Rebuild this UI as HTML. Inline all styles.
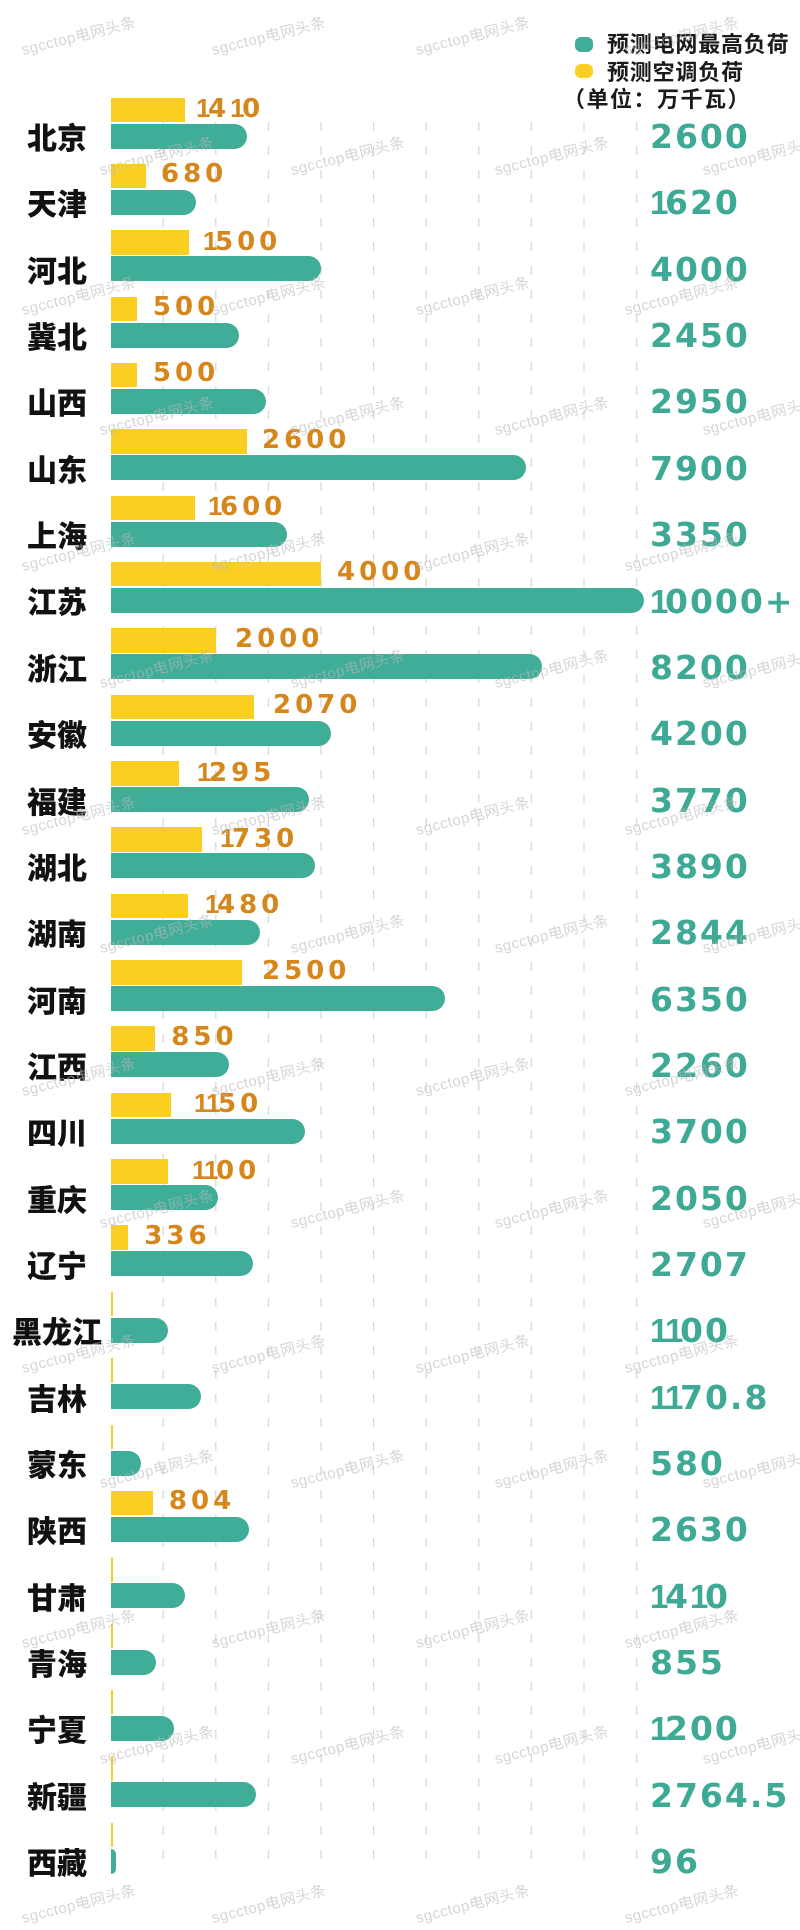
<!DOCTYPE html>
<html><head><meta charset="utf-8">
<style>
html,body{margin:0;padding:0}
body{width:800px;height:1927px;position:relative;background:#fff;overflow:hidden}
.r{position:absolute;left:0;width:800px;height:52px}
.y{position:absolute;left:110.6px;top:0;height:24.5px;background:#fbcf22}
.g{position:absolute;left:110.6px;top:26px;height:25px;background:#40ad98;border-radius:0 12.5px 12.5px 0}
.p{position:absolute;left:0;width:114px;top:23.5px;height:30px;line-height:30px;text-align:center;font-family:"Noto Sans CJK SC","WenQuanYi Zen Hei",sans-serif;font-weight:900;font-size:30px;color:#111;white-space:nowrap}
.o{position:absolute;top:-2.5px;font-family:"DejaVu Sans",sans-serif;font-weight:bold;font-size:26px;line-height:26px;color:#d5871b;letter-spacing:4px;white-space:nowrap}
.o i{display:inline-block;font-style:normal;width:12px;font-family:"Liberation Sans",sans-serif;letter-spacing:0}
.v{position:absolute;left:650px;top:22.6px;font-family:"DejaVu Sans",sans-serif;font-weight:bold;font-size:33px;line-height:33px;color:#3ea994;letter-spacing:2px;white-space:nowrap}
.v i{display:inline-block;font-style:normal;width:15px;font-family:"Liberation Sans",sans-serif;letter-spacing:0}
.lg{position:absolute;font-family:"Noto Sans CJK SC","WenQuanYi Zen Hei",sans-serif;font-weight:bold;font-size:22px;line-height:22px;color:#1a1a1a;white-space:nowrap;letter-spacing:0.8px}
.dot{position:absolute;left:575px;width:18px;height:15px;border-radius:6px}
.w{position:absolute;width:130px;margin-left:-65px;margin-top:-10px;height:20px;line-height:20px;text-align:center;font-family:"Liberation Sans","Noto Sans CJK SC",sans-serif;font-size:15px;letter-spacing:0.5px;color:rgba(185,185,185,0.6);transform:rotate(-14deg);white-space:nowrap;z-index:5}
svg{position:absolute;left:0;top:0}
</style></head>
<body>
<svg width="800" height="1927">
<g stroke="#d9d9d9" stroke-width="1.3" stroke-dasharray="9 15">
<line x1="163.2" y1="122" x2="163.2" y2="1873"/>
<line x1="215.8" y1="122" x2="215.8" y2="1873"/>
<line x1="268.4" y1="122" x2="268.4" y2="1873"/>
<line x1="321" y1="122" x2="321" y2="1873"/>
<line x1="373.6" y1="122" x2="373.6" y2="1873"/>
<line x1="426.2" y1="122" x2="426.2" y2="1873"/>
<line x1="478.8" y1="122" x2="478.8" y2="1873"/>
<line x1="531.4" y1="122" x2="531.4" y2="1873"/>
<line x1="584" y1="122" x2="584" y2="1873"/>
<line x1="636.6" y1="122" x2="636.6" y2="1873"/>
</g>
</svg>

<div class="dot" style="top:36.5px;background:#40ad98"></div>
<div class="lg" style="left:607px;top:32px">预测电网最高负荷</div>
<div class="dot" style="top:63.5px;height:14px;background:#fbcf22"></div>
<div class="lg" style="left:607px;top:60px">预测空调负荷</div>
<div class="lg" style="left:563px;top:87px;letter-spacing:1.5px">（单位：万千瓦）</div>

<div class="r" style="top:97.5px"><div class="y" style="width:74.2px"></div><div class="g" style="width:136.8px"></div><div class="p">北京</div><div class="o" style="left:196px"><i>1</i>4<i>1</i>0</div><div class="v">2600</div></div>
<div class="r" style="top:163.85px"><div class="y" style="width:35.8px"></div><div class="g" style="width:85.2px"></div><div class="p">天津</div><div class="o" style="left:161px">680</div><div class="v"><i>1</i>620</div></div>
<div class="r" style="top:230.2px"><div class="y" style="width:78.9px"></div><div class="g" style="width:210.4px"></div><div class="p">河北</div><div class="o" style="left:203px"><i>1</i>500</div><div class="v">4000</div></div>
<div class="r" style="top:296.55px"><div class="y" style="width:26.3px"></div><div class="g" style="width:128.9px"></div><div class="p">冀北</div><div class="o" style="left:152.9px">500</div><div class="v">2450</div></div>
<div class="r" style="top:362.9px"><div class="y" style="width:26.3px"></div><div class="g" style="width:155.2px"></div><div class="p">山西</div><div class="o" style="left:152.9px">500</div><div class="v">2950</div></div>
<div class="r" style="top:429.25px"><div class="y" style="width:136.8px"></div><div class="g" style="width:415.5px"></div><div class="p">山东</div><div class="o" style="left:262px">2600</div><div class="v">7900</div></div>
<div class="r" style="top:495.6px"><div class="y" style="width:84.2px"></div><div class="g" style="width:176.2px"></div><div class="p">上海</div><div class="o" style="left:208px"><i>1</i>600</div><div class="v">3350</div></div>
<div class="r" style="top:561.95px"><div class="y" style="width:210.4px"></div><div class="g" style="width:533.4px"></div><div class="p">江苏</div><div class="o" style="left:337px">4000</div><div class="v"><i>1</i>0000+</div></div>
<div class="r" style="top:628.3px"><div class="y" style="width:105.2px"></div><div class="g" style="width:431.3px"></div><div class="p">浙江</div><div class="o" style="left:235px">2000</div><div class="v">8200</div></div>
<div class="r" style="top:694.65px"><div class="y" style="width:143.4px"></div><div class="g" style="width:220.9px"></div><div class="p">安徽</div><div class="o" style="left:273px">2070</div><div class="v">4200</div></div>
<div class="r" style="top:761px"><div class="y" style="width:68.1px"></div><div class="g" style="width:198.3px"></div><div class="p">福建</div><div class="o" style="left:197px"><i>1</i>295</div><div class="v">3770</div></div>
<div class="r" style="top:827.35px"><div class="y" style="width:91px"></div><div class="g" style="width:204.6px"></div><div class="p">湖北</div><div class="o" style="left:220px"><i>1</i>730</div><div class="v">3890</div></div>
<div class="r" style="top:893.7px"><div class="y" style="width:77.8px"></div><div class="g" style="width:149.6px"></div><div class="p">湖南</div><div class="o" style="left:205px"><i>1</i>480</div><div class="v">2844</div></div>
<div class="r" style="top:960.05px"><div class="y" style="width:131.5px"></div><div class="g" style="width:334px"></div><div class="p">河南</div><div class="o" style="left:262px">2500</div><div class="v">6350</div></div>
<div class="r" style="top:1026.4px"><div class="y" style="width:44.7px"></div><div class="g" style="width:118.9px"></div><div class="p">江西</div><div class="o" style="left:171.3px">850</div><div class="v">2260</div></div>
<div class="r" style="top:1092.75px"><div class="y" style="width:60.5px"></div><div class="g" style="width:194.6px"></div><div class="p">四川</div><div class="o" style="left:194px"><i>1</i><i>1</i>50</div><div class="v">3700</div></div>
<div class="r" style="top:1159.1px"><div class="y" style="width:57.9px"></div><div class="g" style="width:107.8px"></div><div class="p">重庆</div><div class="o" style="left:192px"><i>1</i><i>1</i>00</div><div class="v">2050</div></div>
<div class="r" style="top:1225.45px"><div class="y" style="width:17.7px"></div><div class="g" style="width:142.4px"></div><div class="p">辽宁</div><div class="o" style="left:144.3px">336</div><div class="v">2707</div></div>
<div class="r" style="top:1291.8px"><div class="y" style="width:2px"></div><div class="g" style="width:57.9px"></div><div class="p">黑龙江</div><div class="v"><i>1</i><i>1</i>00</div></div>
<div class="r" style="top:1358.15px"><div class="y" style="width:2px"></div><div class="g" style="width:90.4px"></div><div class="p">吉林</div><div class="v"><i>1</i><i>1</i>70.8</div></div>
<div class="r" style="top:1424.5px"><div class="y" style="width:2px"></div><div class="g" style="width:30.5px"></div><div class="p">蒙东</div><div class="v">580</div></div>
<div class="r" style="top:1490.85px"><div class="y" style="width:42.3px"></div><div class="g" style="width:138.3px"></div><div class="p">陕西</div><div class="o" style="left:168.9px">804</div><div class="v">2630</div></div>
<div class="r" style="top:1557.2px"><div class="y" style="width:2px"></div><div class="g" style="width:74.2px"></div><div class="p">甘肃</div><div class="v"><i>1</i>4<i>1</i>0</div></div>
<div class="r" style="top:1623.55px"><div class="y" style="width:2px"></div><div class="g" style="width:45px"></div><div class="p">青海</div><div class="v">855</div></div>
<div class="r" style="top:1689.9px"><div class="y" style="width:2px"></div><div class="g" style="width:63.1px"></div><div class="p">宁夏</div><div class="v"><i>1</i>200</div></div>
<div class="r" style="top:1756.25px"><div class="y" style="width:2px"></div><div class="g" style="width:145.4px"></div><div class="p">新疆</div><div class="v">2764.5</div></div>
<div class="r" style="top:1822.6px"><div class="y" style="width:2px"></div><div class="g" style="width:5px"></div><div class="p">西藏</div><div class="v">96</div></div>

<div class="w" style="left:79px;top:37px">sgcctop电网头条</div>
<div class="w" style="left:269px;top:37px">sgcctop电网头条</div>
<div class="w" style="left:473px;top:37px">sgcctop电网头条</div>
<div class="w" style="left:682px;top:37px">sgcctop电网头条</div>
<div class="w" style="left:157px;top:157px">sgcctop电网头条</div>
<div class="w" style="left:348px;top:157px">sgcctop电网头条</div>
<div class="w" style="left:552px;top:157px">sgcctop电网头条</div>
<div class="w" style="left:760px;top:157px">sgcctop电网头条</div>
<div class="w" style="left:79px;top:297px">sgcctop电网头条</div>
<div class="w" style="left:269px;top:297px">sgcctop电网头条</div>
<div class="w" style="left:473px;top:297px">sgcctop电网头条</div>
<div class="w" style="left:682px;top:297px">sgcctop电网头条</div>
<div class="w" style="left:157px;top:417px">sgcctop电网头条</div>
<div class="w" style="left:348px;top:417px">sgcctop电网头条</div>
<div class="w" style="left:552px;top:417px">sgcctop电网头条</div>
<div class="w" style="left:760px;top:417px">sgcctop电网头条</div>
<div class="w" style="left:79px;top:553px">sgcctop电网头条</div>
<div class="w" style="left:269px;top:553px">sgcctop电网头条</div>
<div class="w" style="left:473px;top:553px">sgcctop电网头条</div>
<div class="w" style="left:682px;top:553px">sgcctop电网头条</div>
<div class="w" style="left:157px;top:670px">sgcctop电网头条</div>
<div class="w" style="left:348px;top:670px">sgcctop电网头条</div>
<div class="w" style="left:552px;top:670px">sgcctop电网头条</div>
<div class="w" style="left:760px;top:670px">sgcctop电网头条</div>
<div class="w" style="left:79px;top:817px">sgcctop电网头条</div>
<div class="w" style="left:269px;top:817px">sgcctop电网头条</div>
<div class="w" style="left:473px;top:817px">sgcctop电网头条</div>
<div class="w" style="left:682px;top:817px">sgcctop电网头条</div>
<div class="w" style="left:157px;top:935px">sgcctop电网头条</div>
<div class="w" style="left:348px;top:935px">sgcctop电网头条</div>
<div class="w" style="left:552px;top:935px">sgcctop电网头条</div>
<div class="w" style="left:760px;top:935px">sgcctop电网头条</div>
<div class="w" style="left:79px;top:1078px">sgcctop电网头条</div>
<div class="w" style="left:269px;top:1078px">sgcctop电网头条</div>
<div class="w" style="left:473px;top:1078px">sgcctop电网头条</div>
<div class="w" style="left:682px;top:1078px">sgcctop电网头条</div>
<div class="w" style="left:157px;top:1210px">sgcctop电网头条</div>
<div class="w" style="left:348px;top:1210px">sgcctop电网头条</div>
<div class="w" style="left:552px;top:1210px">sgcctop电网头条</div>
<div class="w" style="left:760px;top:1210px">sgcctop电网头条</div>
<div class="w" style="left:79px;top:1355px">sgcctop电网头条</div>
<div class="w" style="left:269px;top:1355px">sgcctop电网头条</div>
<div class="w" style="left:473px;top:1355px">sgcctop电网头条</div>
<div class="w" style="left:682px;top:1355px">sgcctop电网头条</div>
<div class="w" style="left:157px;top:1470px">sgcctop电网头条</div>
<div class="w" style="left:348px;top:1470px">sgcctop电网头条</div>
<div class="w" style="left:552px;top:1470px">sgcctop电网头条</div>
<div class="w" style="left:760px;top:1470px">sgcctop电网头条</div>
<div class="w" style="left:79px;top:1630px">sgcctop电网头条</div>
<div class="w" style="left:269px;top:1630px">sgcctop电网头条</div>
<div class="w" style="left:473px;top:1630px">sgcctop电网头条</div>
<div class="w" style="left:682px;top:1630px">sgcctop电网头条</div>
<div class="w" style="left:157px;top:1746px">sgcctop电网头条</div>
<div class="w" style="left:348px;top:1746px">sgcctop电网头条</div>
<div class="w" style="left:552px;top:1746px">sgcctop电网头条</div>
<div class="w" style="left:760px;top:1746px">sgcctop电网头条</div>
<div class="w" style="left:79px;top:1905px">sgcctop电网头条</div>
<div class="w" style="left:269px;top:1905px">sgcctop电网头条</div>
<div class="w" style="left:473px;top:1905px">sgcctop电网头条</div>
<div class="w" style="left:682px;top:1905px">sgcctop电网头条</div>
</body></html>
